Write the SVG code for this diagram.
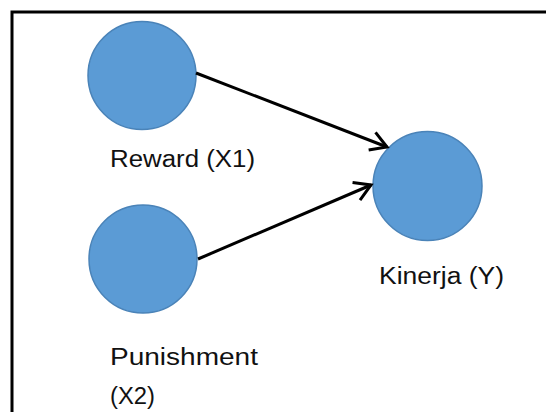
<svg xmlns="http://www.w3.org/2000/svg" width="546" height="412" viewBox="0 0 546 412">
<defs>
<style>
.node{fill:#5B9BD5;stroke:#4A83B8;stroke-width:1.5}
.lbl{font-family:"Liberation Sans",Arial,sans-serif;font-size:23px;fill:#111}
.edge{stroke:#000;stroke-width:3;fill:none}
</style>
<marker id="arr" markerUnits="userSpaceOnUse" markerWidth="24" markerHeight="24" viewBox="-20 -12 24 24" refX="0" refY="0" orient="auto">
<path d="M-16,-9.5 L0,0 L-16,9.5" fill="none" stroke="#000" stroke-width="3" stroke-linejoin="miter"/>
</marker>
</defs>
<rect width="546" height="412" fill="#fff"/>
<path d="M12,412 V12 H546" fill="none" stroke="#000" stroke-width="3"/>
<g id="x1">
<circle class="node" cx="142" cy="75.5" r="54"/>
<text class="lbl" x="110" y="167" textLength="145" lengthAdjust="spacingAndGlyphs">Reward (X1)</text>
</g>
<g id="x2">
<circle class="node" cx="143" cy="259" r="54"/>
<text class="lbl" x="110" y="365" textLength="148" lengthAdjust="spacingAndGlyphs">Punishment</text>
<text class="lbl" x="110" y="404" textLength="45" lengthAdjust="spacingAndGlyphs">(X2)</text>
</g>
<g id="y">
<circle class="node" cx="427.5" cy="186" r="54.5"/>
<text class="lbl" x="379" y="284" textLength="125" lengthAdjust="spacingAndGlyphs">Kinerja (Y)</text>
</g>
<g id="connectors">
<line class="edge" x1="196" y1="73" x2="387" y2="147" marker-end="url(#arr)"/>
<line class="edge" x1="198" y1="259" x2="371" y2="185" marker-end="url(#arr)"/>
</g>
</svg>
